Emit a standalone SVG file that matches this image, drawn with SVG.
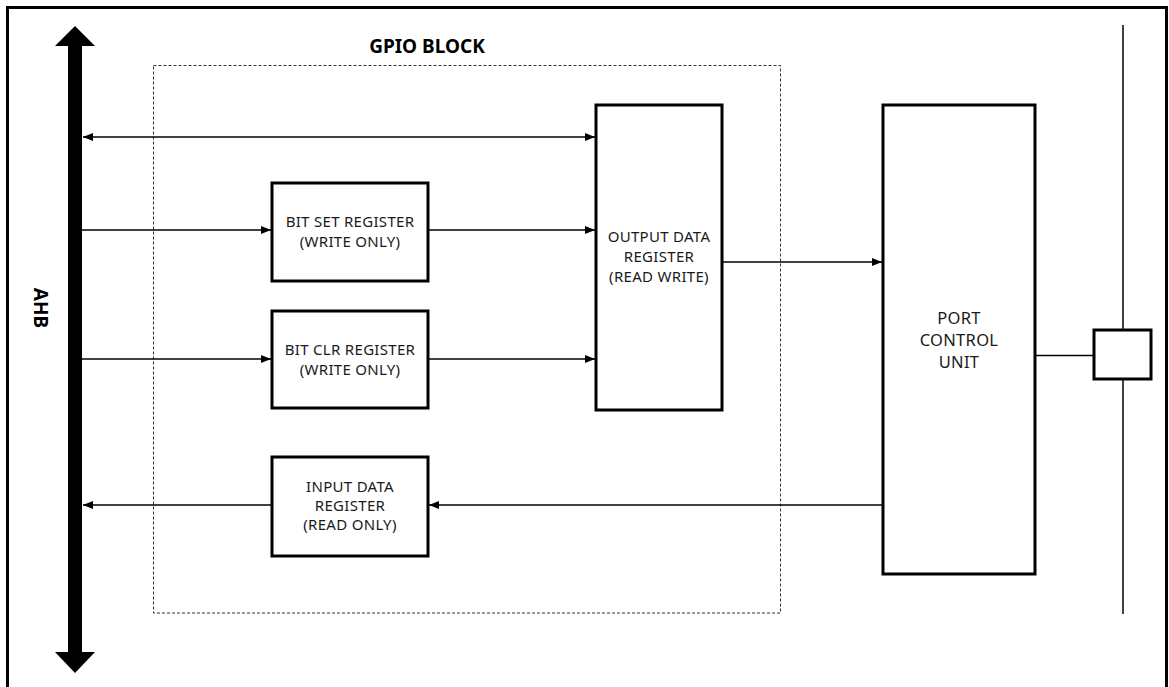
<svg xmlns="http://www.w3.org/2000/svg" width="1169" height="687" viewBox="0 0 1169 687">
<style>
.box{fill:#fff;stroke:#000;stroke-width:3}
.ln{stroke:#000;stroke-width:1.5;fill:none}
.t{font-family:"Noto Sans","Open Sans",sans-serif;font-size:15px;letter-spacing:0.3px;fill:#1a1a1a;text-anchor:middle}
.tl{font-size:16.5px}
.tb{font-family:"Noto Sans","Open Sans",sans-serif;font-size:19px;font-weight:bold;fill:#000;text-anchor:middle}
</style>
<defs>
<marker id="ah" viewBox="0 0 10 10" refX="10" refY="5" markerWidth="10" markerHeight="10" markerUnits="userSpaceOnUse" orient="auto-start-reverse">
<path d="M0,1 L10,5 L0,9 Z" fill="#000"/>
</marker>
</defs>
<rect x="0" y="0" width="1169" height="687" fill="#fff"/>
<path d="M7.5,700 V7.5 H1166.5 V700" fill="none" stroke="#000" stroke-width="3"/>
<g id="gpio-block">
<rect x="153.5" y="65.5" width="627" height="547.5" fill="none" stroke="#333" stroke-width="1" stroke-dasharray="3,2"/>
<text class="tb" x="427" y="53">GPIO BLOCK</text>
</g>
<g id="ahb">
<rect x="68" y="46" width="14" height="606" fill="#000"/>
<polygon points="55,46 75,26 95,46" fill="#000"/>
<polygon points="55,652 75,673 95,652" fill="#000"/>
<text class="tb" transform="translate(34,308) rotate(90)">AHB</text>
</g>
<g id="bit-set">
<rect class="box" x="272" y="183" width="156" height="98"/>
<text class="t" x="350" y="227">BIT SET REGISTER</text>
<text class="t" x="350" y="247">(WRITE ONLY)</text>
</g>
<g id="bit-clr">
<rect class="box" x="272" y="311" width="156" height="97"/>
<text class="t" x="350" y="355">BIT CLR REGISTER</text>
<text class="t" x="350" y="375">(WRITE ONLY)</text>
</g>
<g id="input-data">
<rect class="box" x="272" y="457" width="156" height="99"/>
<text class="t" x="350" y="492">INPUT DATA</text>
<text class="t" x="350" y="511">REGISTER</text>
<text class="t" x="350" y="530">(READ ONLY)</text>
</g>
<g id="output-data">
<rect class="box" x="596" y="105" width="126" height="305"/>
<text class="t" x="659" y="242">OUTPUT DATA</text>
<text class="t" x="659" y="262">REGISTER</text>
<text class="t" x="659" y="282">(READ WRITE)</text>
</g>
<g id="port-control">
<rect class="box" x="883" y="105" width="152" height="469"/>
<text class="t tl" x="959" y="324">PORT</text>
<text class="t tl" x="959" y="346">CONTROL</text>
<text class="t tl" x="959" y="368">UNIT</text>
</g>
<g id="port-pin">
<line class="ln" x1="1123" y1="25" x2="1123" y2="614"/>
<rect class="box" x="1094" y="330" width="57" height="49"/>
</g>
<g id="connectors">
<line class="ln" x1="83" y1="137" x2="595" y2="137" marker-start="url(#ah)" marker-end="url(#ah)"/>
<line class="ln" x1="82" y1="230" x2="271" y2="230" marker-end="url(#ah)"/>
<line class="ln" x1="428" y1="230" x2="595" y2="230" marker-end="url(#ah)"/>
<line class="ln" x1="82" y1="359" x2="271" y2="359" marker-end="url(#ah)"/>
<line class="ln" x1="428" y1="359" x2="595" y2="359" marker-end="url(#ah)"/>
<line class="ln" x1="722" y1="262" x2="882" y2="262" marker-end="url(#ah)"/>
<line class="ln" x1="883" y1="505" x2="429" y2="505" marker-end="url(#ah)"/>
<line class="ln" x1="272" y1="505" x2="83" y2="505" marker-end="url(#ah)"/>
<line class="ln" x1="1035" y1="355.5" x2="1094" y2="355.5"/>
</g>
</svg>
